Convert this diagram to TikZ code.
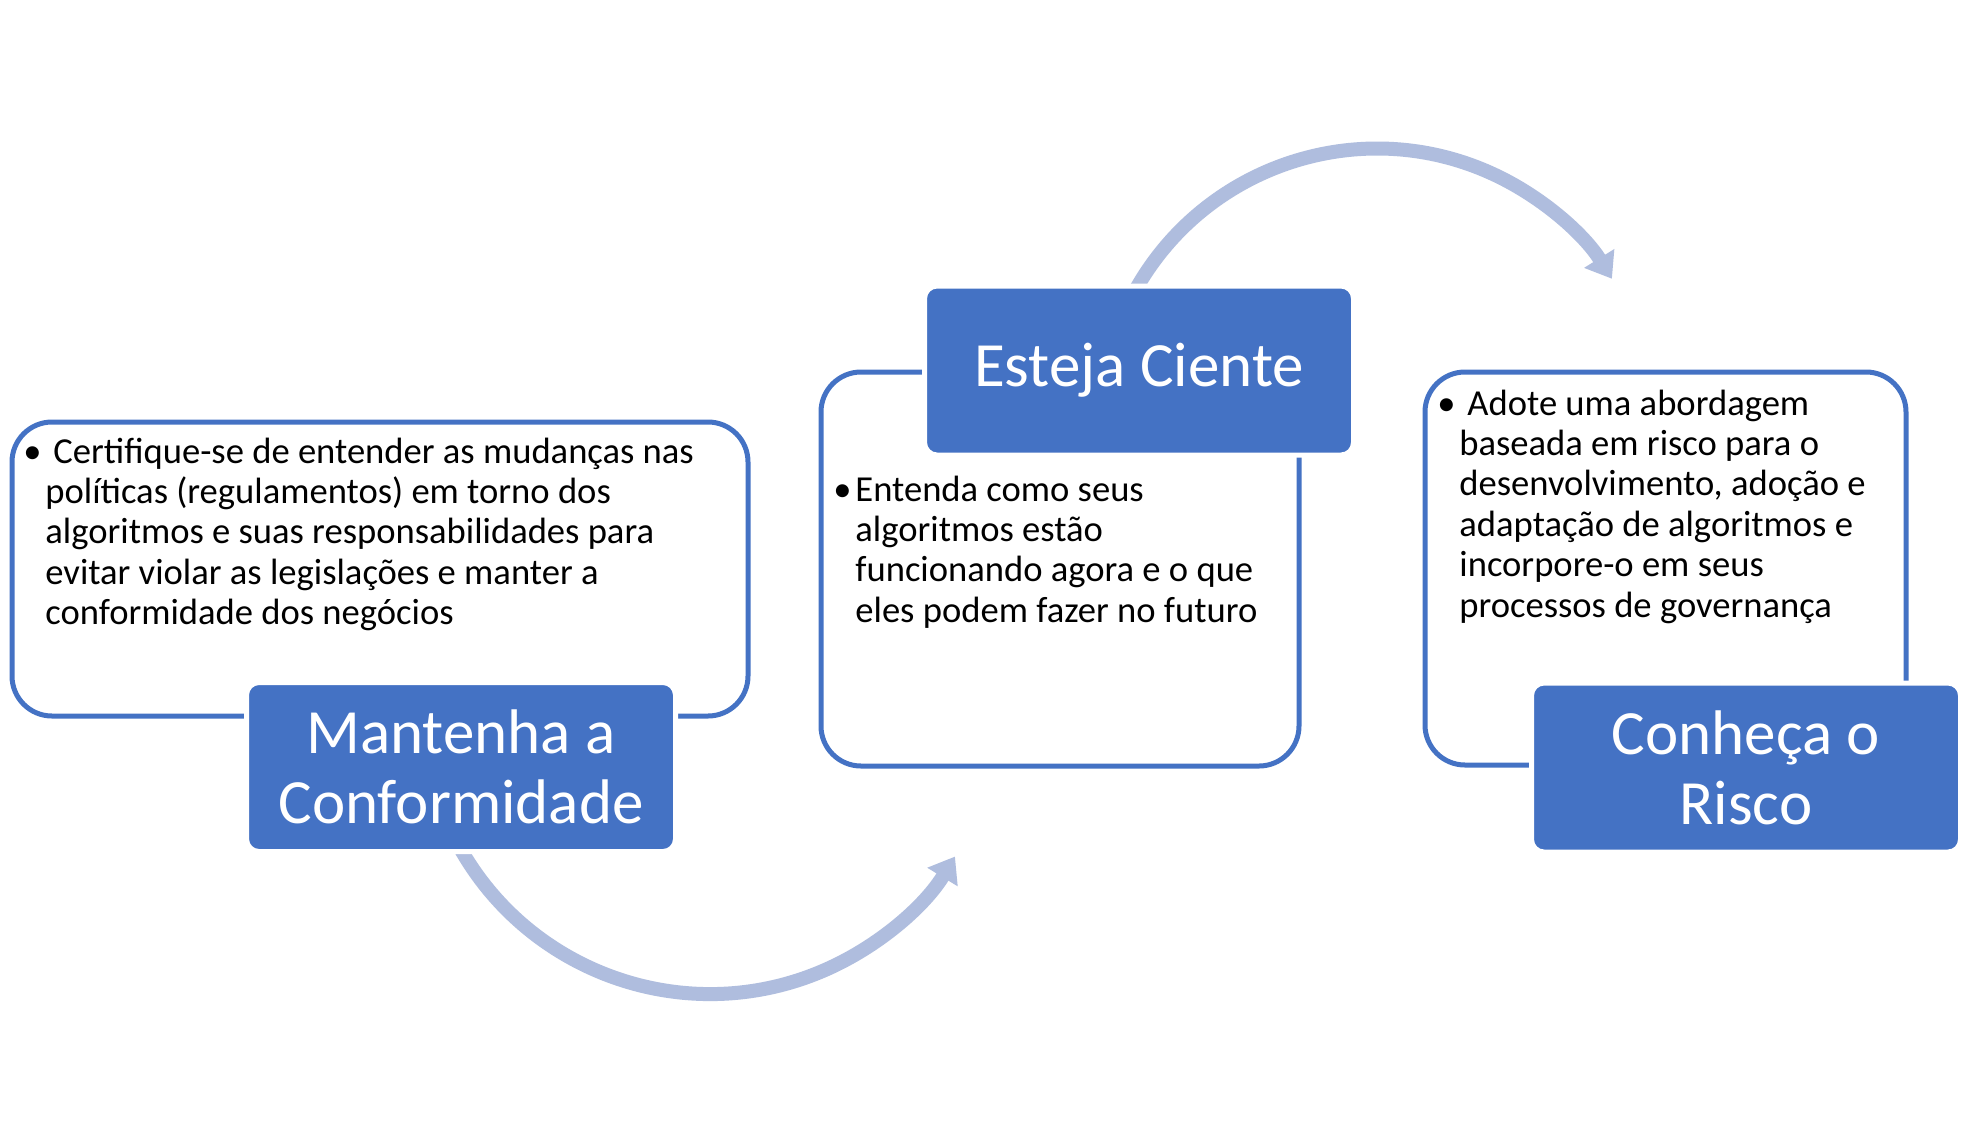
\documentclass[tikz,border=0pt]{standalone}
\usepackage{fontspec}
\setmainfont{Carlito}
\usetikzlibrary{arrows.meta}
\definecolor{accent}{HTML}{4472C4}
\definecolor{arrowc}{RGB}{175,189,222}
\begin{document}
\begin{tikzpicture}[x=0.5pt,y=0.5pt,
  outlinebox/.style={draw=accent, line width=2.5pt, rounded corners=20pt, inner sep=0pt},
  titlebox/.style={fill=accent, draw=white, line width=2.5pt, rounded corners=6.25pt,
    minimum width=214.5pt, minimum height=84.5pt, inner sep=0pt, text=white,
    font=\fontsize{31.5}{35}\selectfont, align=center},
  bodytext/.style={anchor=base west, inner sep=0pt, align=left,
    font=\fontsize{18.3}{20.2}\selectfont},
  cyclearrow/.style={draw=arrowc, line width=7pt, -{Triangle[width=17pt,length=12pt]}}
]
\fill[white] (0,0) rectangle (1961,-1137);
\useasboundingbox (0,0) rectangle (1961,-1137);

% cycle arrows (drawn first, partly hidden by the title boxes)
\coordinate (a1s) at (449.9,-828.3);
\coordinate (a2s) at (1130.2,-299.8);
\draw[cyclearrow] (a1s) arc[start angle=205, end angle=328.6, radius=287];
\draw[cyclearrow] (a2s) arc[start angle=153, end angle=32, radius=277];

% outlined content boxes
\node[outlinebox, minimum width=368pt, minimum height=147pt] (b1) at (380,-569) {};
\node[outlinebox, minimum width=239pt, minimum height=197pt] (b2) at (1060,-569) {};
\node[outlinebox, minimum width=240.5pt, minimum height=196.5pt] (b3) at (1665.5,-568.5) {};

% title boxes
\node[titlebox] (t1) at (461,-767) {Mantenha a\\Conformidade};
\node[titlebox] (t2) at (1139,-370.5) {Esteja Ciente};
\node[titlebox] (t3) at (1746,-767.5) {Conheça o\\Risco};

% body texts (anchored at the baseline of their last line)
\node[bodytext] (x1) at (45,-624.6) {\llap{\makebox[0pt]{•}\hspace{6.5pt}}\hspace{4pt}Certifique-se de entender as mudanças nas\\políticas (regulamentos) em torno dos\\algoritmos e suas responsabilidades para\\evitar violar as legislações e manter a\\conformidade dos negócios};
\node[bodytext] (x2) at (855,-622.2) {\llap{\makebox[0pt]{•}\hspace{6.5pt}}Entenda como seus\\algoritmos estão\\funcionando agora e o que\\eles podem fazer no futuro};
\node[bodytext] (x3) at (1459,-617) {\llap{\makebox[0pt]{•}\hspace{6.5pt}}\hspace{4pt}Adote uma abordagem\\baseada em risco para o\\desenvolvimento, adoção e\\adaptação de algoritmos e\\incorpore-o em seus\\processos de governança};
\end{tikzpicture}
\end{document}
